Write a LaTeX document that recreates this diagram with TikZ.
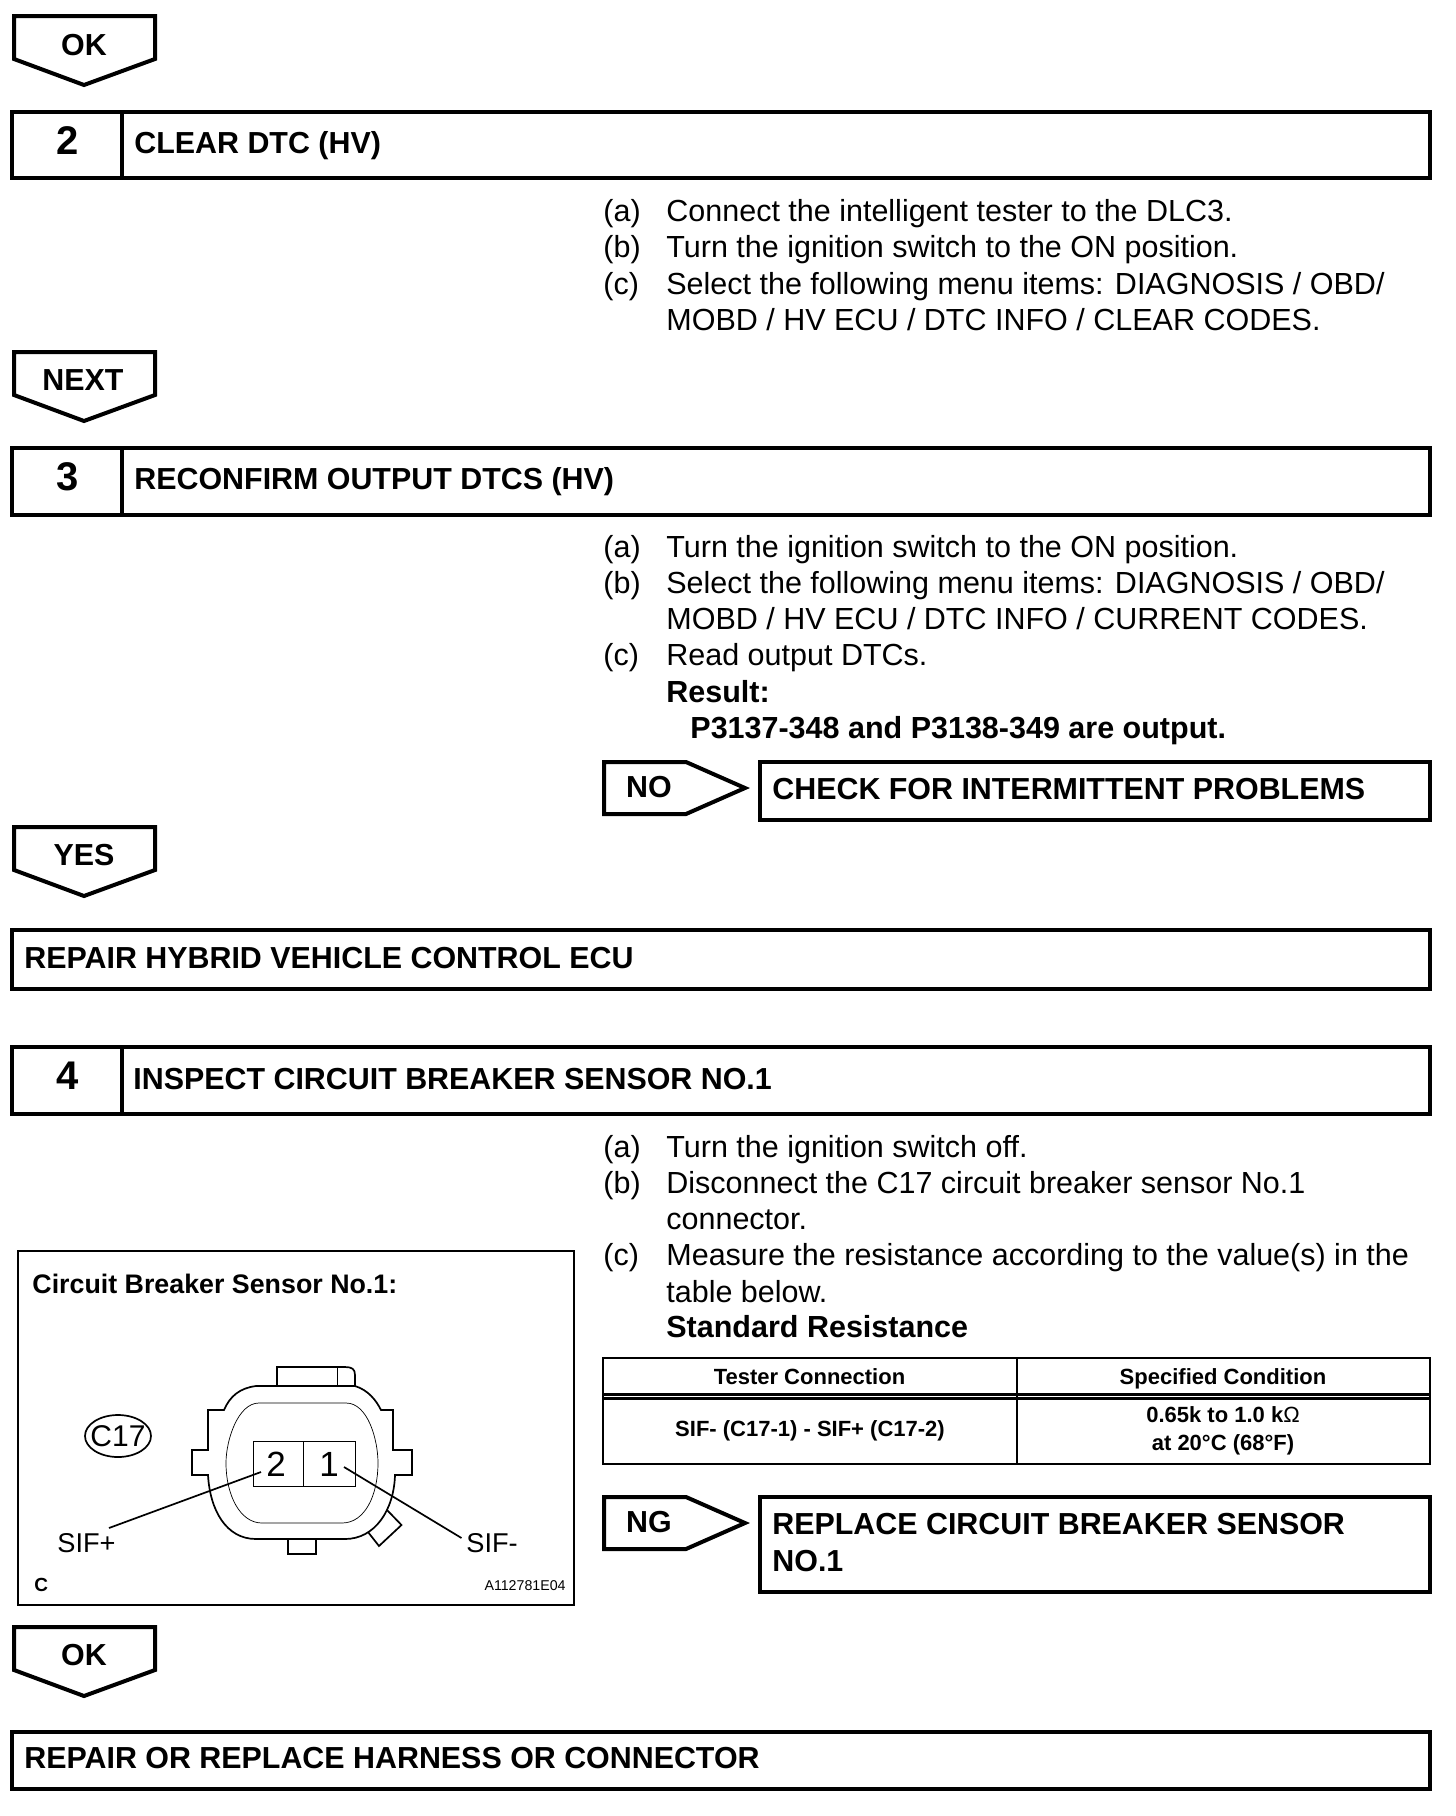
\documentclass[tikz,border=0pt]{standalone}
\usepackage{fontspec}
\setmainfont{Liberation Sans}
\usetikzlibrary{calc}
\tikzset{
  heavy/.style={draw=black,line width=2pt,line join=miter},
  medium/.style={draw=black,line width=1.2pt},
  fine/.style={draw=black,line width=0.85pt},
  thin line/.style={draw=black,line width=0.35pt},
  body/.style={anchor=base west,inner sep=0pt,font=\fontsize{15.25}{18}\selectfont},
  bodybold/.style={anchor=base west,inner sep=0pt,font=\fontsize{15.25}{18}\selectfont\bfseries},
  head/.style={anchor=base west,inner sep=0pt,font=\fontsize{15.2}{18}\selectfont\bfseries},
  arrowlabel/.style={anchor=base,inner sep=0pt,font=\fontsize{15.2}{18}\selectfont\bfseries},
  num/.style={anchor=base,inner sep=0pt,font=\fontsize{20}{24}\selectfont\bfseries},
  cell/.style={anchor=base,inner sep=0pt,font=\fontsize{11}{13}\selectfont\bfseries},
  dgm/.style={anchor=base west,inner sep=0pt,font=\fontsize{13.6}{16}\selectfont},
}
\begin{document}
\begin{tikzpicture}[x=0.5pt,y=-0.5pt]
\useasboundingbox (0,0) rectangle (1456,1816);
% down arrows
\draw[heavy] (14,16) -- (155,16) -- (155,59) -- (84,85) -- (14,59) -- cycle;
\node[arrowlabel] (ok1) at (84,55) {OK};
\draw[heavy] (14,352) -- (155,352) -- (155,395) -- (84,421) -- (14,395) -- cycle;
\node[arrowlabel] (next) at (83,390) {NEXT};
\draw[heavy] (14,827) -- (155,827) -- (155,870) -- (84,896) -- (14,870) -- cycle;
\node[arrowlabel] (yes) at (84,865) {YES};
\draw[heavy] (14,1627) -- (155,1627) -- (155,1670) -- (84,1696) -- (14,1670) -- cycle;
\node[arrowlabel] (ok2) at (84,1665) {OK};
% step 2
\draw[heavy] (12,112) rectangle (1430,178) (122,112) -- (122,178);
\node[num] (n2) at (68,154) {2};
\node[head] (h2) at (134,153) {CLEAR DTC (HV)};
\node[body] (a2) at (603,221) {(a)};
\node[body] (a2t) at (666,221) {Connect the intelligent tester to the DLC3.};
\node[body] (b2) at (603,257) {(b)};
\node[body] (b2t) at (666,257) {Turn the ignition switch to the ON position.};
\node[body] (c2) at (603,294) {(c)};
\node[body] (c2t) at (666,294) {Select the following menu items: DIAGNOSIS / OBD/};
\node[body] (c2u) at (666,330) {MOBD / HV ECU / DTC INFO / CLEAR CODES.};
% step 3
\draw[heavy] (12,448) rectangle (1430,515) (122,448) -- (122,515);
\node[num] (n3) at (68,490) {3};
\node[head] (h3) at (134,489) {RECONFIRM OUTPUT DTCS (HV)};
\node[body] (a3) at (603,557) {(a)};
\node[body] (a3t) at (666,557) {Turn the ignition switch to the ON position.};
\node[body] (b3) at (603,593) {(b)};
\node[body] (b3t) at (666,593) {Select the following menu items: DIAGNOSIS / OBD/};
\node[body] (b3u) at (666,629) {MOBD / HV ECU / DTC INFO / CURRENT CODES.};
\node[body] (c3) at (603,665) {(c)};
\node[body] (c3t) at (666,665) {Read output DTCs.};
\node[bodybold] (r3) at (666,702) {Result:};
\node[bodybold] (r3v) at (690,738) {P3137-348 and P3138-349 are output.};
% NO
\draw[heavy] (604,762) -- (686,762) -- (745,788) -- (686,814) -- (604,814) -- cycle;
\node[arrowlabel] (no) at (649,797) {NO};
\draw[heavy] (760,762) rectangle (1430,820);
\node[head] (check) at (772,799) {CHECK FOR INTERMITTENT PROBLEMS};
% repair ECU
\draw[heavy] (12,930) rectangle (1430,989);
\node[head] (repair) at (24,968) {REPAIR HYBRID VEHICLE CONTROL ECU};
% step 4
\draw[heavy] (12,1047) rectangle (1430,1114) (122,1047) -- (122,1114);
\node[num] (n4) at (68,1089) {4};
\node[head] (h4) at (133,1089) {INSPECT CIRCUIT BREAKER SENSOR NO.1};
\node[body] (a4) at (603,1157) {(a)};
\node[body] (a4t) at (666,1157) {Turn the ignition switch off.};
\node[body] (b4) at (603,1193) {(b)};
\node[body] (b4t) at (666,1193) {Disconnect the C17 circuit breaker sensor No.1};
\node[body] (b4u) at (666,1229) {connector.};
\node[body] (c4) at (603,1265) {(c)};
\node[body] (c4t) at (666,1265) {Measure the resistance according to the value(s) in the};
\node[body] (c4u) at (666,1302) {table below.};
\node[bodybold] (sr) at (666,1337) {Standard Resistance};
% table
\draw[medium] (603,1358) rectangle (1430,1464);
\draw[medium] (1017,1358) -- (1017,1464);
\draw[medium] (603,1394.5) -- (1430,1394.5) (603,1398.5) -- (1430,1398.5);
\node[cell] (t1) at (809.5,1384) {Tester Connection};
\node[cell] (t2) at (1223,1384) {Specified Condition};
\node[cell] (t3) at (810,1436) {SIF- (C17-1) - SIF+ (C17-2)};
\node[cell] (t4) at (1223,1422) {0.65k to 1.0 k{\mdseries Ω}};
\node[cell] (t5) at (1223,1450) {at 20°C (68°F)};
% NG
\draw[heavy] (604,1497) -- (686,1497) -- (745,1523) -- (686,1549) -- (604,1549) -- cycle;
\node[arrowlabel] (ng) at (649,1532) {NG};
\draw[heavy] (760,1497) rectangle (1430,1592);
\node[head] (rep1) at (772,1534) {REPLACE CIRCUIT BREAKER SENSOR};
\node[head] (rep2) at (772,1571) {NO.1};
% illustration
\draw[medium] (18,1251) rectangle (574,1605);
\node[anchor=base west,inner sep=0pt,font=\fontsize{13.4}{15}\selectfont\bfseries] (title) at (32,1293) {Circuit Breaker Sensor No.1:};
\node[dgm,anchor=center,font=\fontsize{15}{18}\selectfont] (c17) at (118,1436) {C17};
\draw[fine] (c17) ellipse [x radius=33,y radius=21];
% connector
\draw[fine] (277,1386) -- (277,1367) -- (345,1367) .. controls (352,1367) and (355,1369) .. (355,1375) -- (355,1386);
\draw[thin line] (337,1367) -- (337,1386);
\draw[fine] (256,1386) -- (355,1386) .. controls (368,1390) and (376,1400) .. (381,1410) -- (393,1410) -- (393,1450) -- (412,1450) -- (412,1475) -- (395,1475)
  .. controls (394,1510) and (375,1539) .. (345,1539) -- (256,1539)
  .. controls (226,1539) and (210,1510) .. (208,1475) -- (192,1475) -- (192,1450) -- (208,1450) -- (208,1410) -- (224,1410) .. controls (230,1396) and (240,1388) .. (256,1386) -- cycle;
\draw[fine] (288,1539) -- (288,1554) -- (316,1554) -- (316,1539);
\draw[fine] (387,1510) -- (401.5,1525) -- (379,1546) -- (368,1532);
\draw[thin line] (259,1403) -- (346,1403) .. controls (368,1403) and (378,1440) .. (378,1463) .. controls (378,1495) and (365,1523) .. (342,1523) -- (262,1523) .. controls (240,1523) and (226,1495) .. (226,1463) .. controls (226,1440) and (238,1403) .. (259,1403) -- cycle;
\draw[thin line] (253,1441) rectangle (355,1486) (303,1441) -- (303,1486);
\node[dgm,anchor=center,font=\fontsize{17.5}{20}\selectfont] (p2) at (276,1464) {2};
\node[dgm,anchor=center,font=\fontsize{17.5}{20}\selectfont] (p1) at (329,1464) {1};
\node[dgm] (sifp) at (57,1552) {SIF+};
\node[dgm] (sifm) at (466,1552) {SIF-};
\coordinate (pa) at (261,1472);
\coordinate (pb) at (109,1528);
\coordinate (ma) at (344,1467);
\coordinate (mb) at (461.5,1538);
\draw[fine] (pa) -- (pb);
\draw[fine] (ma) -- (mb);
\node[anchor=base west,inner sep=0pt,font=\fontsize{9.5}{11}\selectfont\bfseries] (cc) at (34,1591) {C};
\node[anchor=base east,inner sep=0pt,font=\fontsize{7.1}{9}\selectfont] (code) at (566,1590) {A112781E04};
% last
\draw[heavy] (12,1732) rectangle (1430,1789);
\node[head] (last) at (24,1768) {REPAIR OR REPLACE HARNESS OR CONNECTOR};
\end{tikzpicture}
\end{document}
